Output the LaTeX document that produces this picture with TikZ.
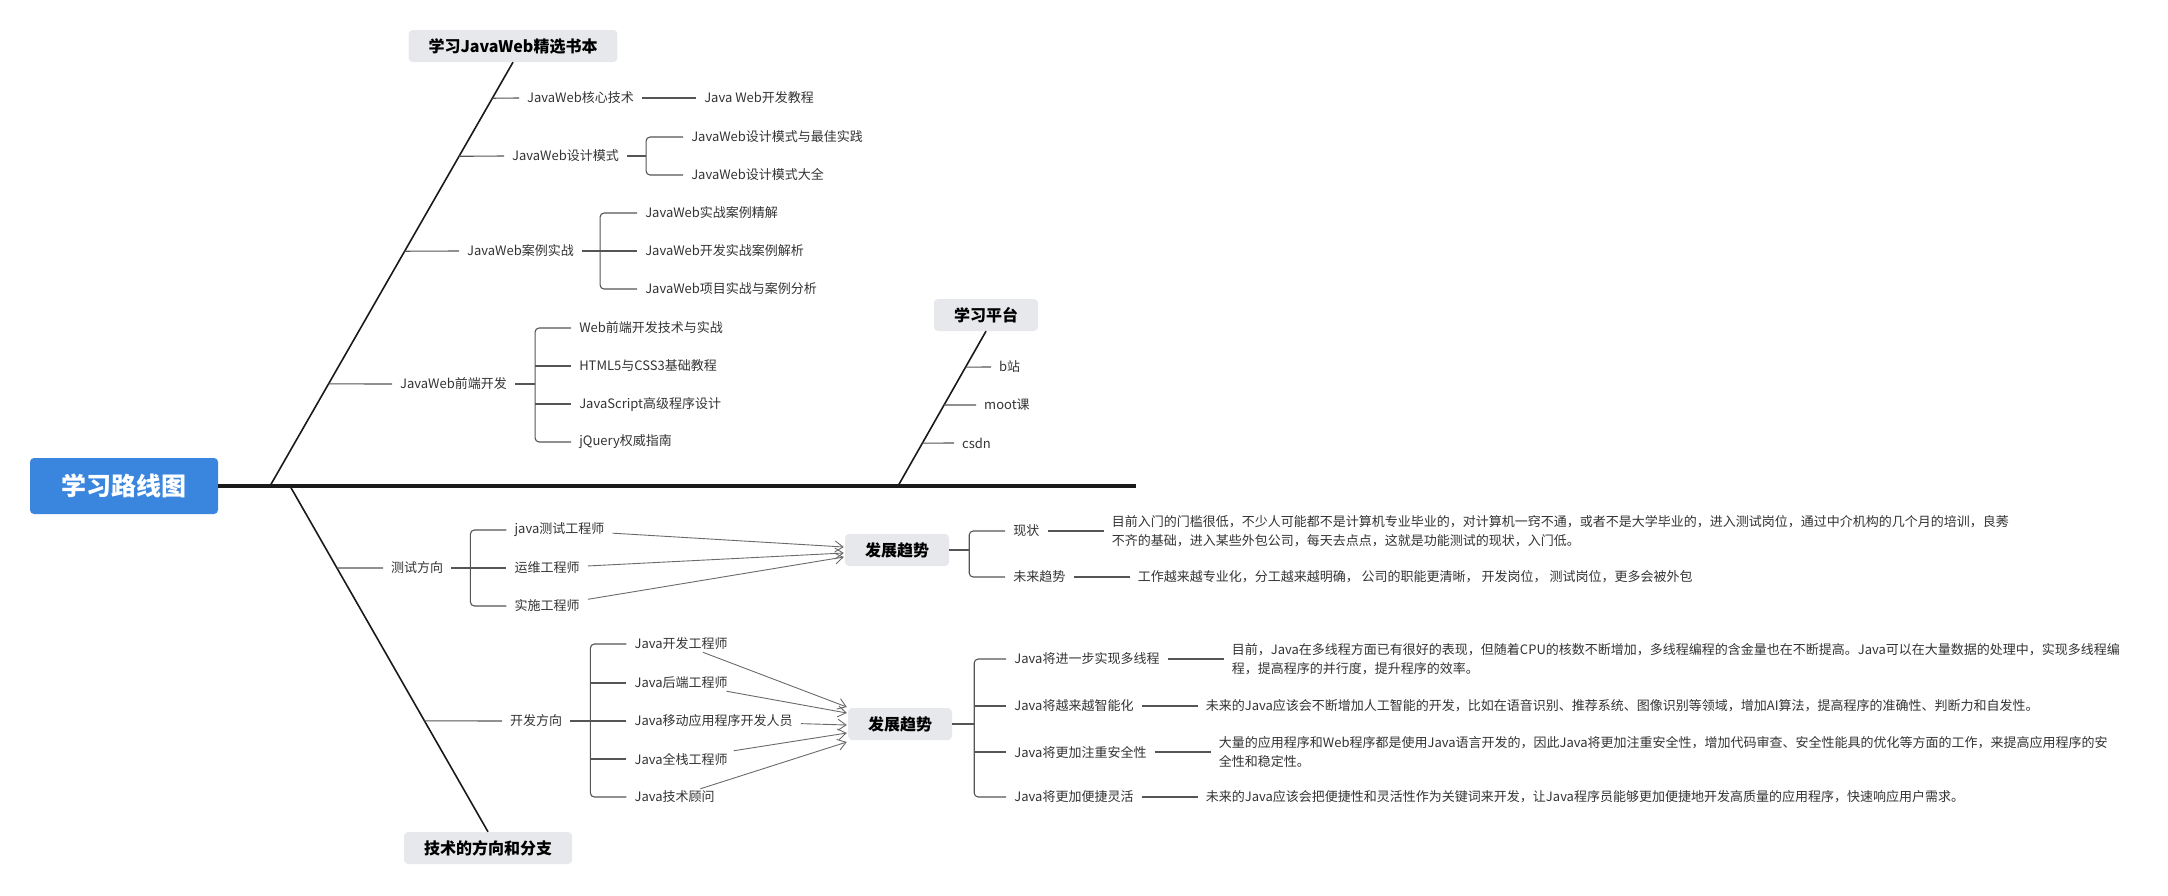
\documentclass[tikz,border=0pt]{standalone}
\usepackage{fontspec}
\setmainfont{Noto Sans CJK SC}
\usetikzlibrary{positioning, arrows.meta, calc}
\definecolor{rootBlue}{HTML}{3A85DE}
\definecolor{topicFill}{HTML}{E7E8EB}
\definecolor{boneColor}{HTML}{1A1A1A}
\definecolor{branchColor}{HTML}{555555}
\definecolor{arrowColor}{HTML}{6A6A6A}
\definecolor{textMain}{HTML}{333333}
\tikzset{
  rootnode/.style={
    fill=rootBlue, rounded corners=4pt,
    minimum width=188pt, minimum height=56pt,
    font=\fontsize{25}{28}\selectfont\bfseries, text=white,
  },
  topic/.style={
    fill=topicFill, rounded corners=4pt,
    minimum height=32pt, inner xsep=20pt,
    font=\fontsize{16}{18}\selectfont\bfseries, text=black,
  },
  leaf/.style={
    anchor=west, inner xsep=8pt, inner ysep=2pt,
    font=\fontsize{13}{15}\selectfont, text=textMain,
  },
  para/.style={
    leaf, align=left, font=\fontsize{13}{19}\selectfont,
  },
  spine/.style={line width=4pt, color=boneColor},
  bone/.style={line width=1.6pt, color=boneColor},
  branch/.style={line width=1.1pt, color=branchColor, rounded corners=4pt},
  trendarrow/.style={
    -{Straight Barb[length=8pt, width=11pt]}, line width=0.9pt, color=arrowColor,
  },
}

\begin{document}
\begin{tikzpicture}[x=1pt, y=-1pt]
  \useasboundingbox (0,0) rectangle (2168,895);

  % === Root and spine ===
  \node[rootnode] (root) at (124,486) {学习路线图};
  \coordinate (spineEnd) at (1136,486);
  \draw[spine] (root.east) -- (spineEnd);

  % === Books bone ===
  \node[topic] (books) at (513,46) {学习JavaWeb精选书本};
  \coordinate (booksFoot) at (270,486);
  \draw[bone] (booksFoot) -- (books.south);

  \node[leaf] (core) at (519,98) {JavaWeb核心技术};
  \node[leaf, right=54pt of core] (coreBook) {Java Web开发教程};
  \draw[branch] ($(booksFoot)!0.915!(books.south)$) -- (core.west);
  \draw[branch] (core) -- (coreBook);

  \node[leaf] (design) at (504,156) {JavaWeb设计模式};
  \coordinate[right=19pt of design] (designFork);
  \node[leaf] (design1) at ($(designFork)+(37,-19)$) {JavaWeb设计模式与最佳实践};
  \node[leaf] (design2) at ($(designFork)+(37,19)$) {JavaWeb设计模式大全};
  \draw[branch] ($(booksFoot)!0.778!(books.south)$) -- (design.west);
  \draw[branch] (design.east) -- (designFork);
  \draw[branch] (design1.west) -| (designFork) |- (design2.west);

  \node[leaf] (cases) at (459,251) {JavaWeb案例实战};
  \coordinate[right=18pt of cases] (casesFork);
  \node[leaf] (cases1) at ($(casesFork)+(37,-38)$) {JavaWeb实战案例精解};
  \node[leaf] (cases2) at ($(casesFork)+(37,0)$) {JavaWeb开发实战案例解析};
  \node[leaf] (cases3) at ($(casesFork)+(37,38)$) {JavaWeb项目实战与案例分析};
  \draw[branch] ($(booksFoot)!0.554!(books.south)$) -- (cases.west);
  \draw[branch] (cases.east) -- (casesFork) -- (cases2.west);
  \draw[branch] (cases1.west) -| (casesFork) |- (cases3.west);

  \node[leaf] (front) at (392,384) {JavaWeb前端开发};
  \coordinate[right=20pt of front] (frontFork);
  \node[leaf] (front1) at ($(frontFork)+(36,-56)$) {Web前端开发技术与实战};
  \node[leaf] (front2) at ($(frontFork)+(36,-18)$) {HTML5与CSS3基础教程};
  \node[leaf] (front3) at ($(frontFork)+(36,20)$) {JavaScript高级程序设计};
  \node[leaf] (front4) at ($(frontFork)+(36,58)$) {jQuery权威指南};
  \draw[branch] ($(booksFoot)!0.241!(books.south)$) -- (front.west);
  \draw[branch] (front.east) -- (frontFork);
  \draw[branch] (front1.west) -| (frontFork) |- (front4.west);
  \draw[branch] (front2.west -| frontFork) -- (front2.west);
  \draw[branch] (front3.west -| frontFork) -- (front3.west);

  % === Platform bone ===
  \node[topic] (platform) at (986,315) {学习平台};
  \coordinate (platformFoot) at (898,486);
  \draw[bone] (platformFoot) -- (platform.south);

  \node[leaf] (bili) at (991,367) {b站};
  \node[leaf] (mooc) at (976,405) {moot课};
  \node[leaf] (csdn) at (954,443) {csdn};
  \draw[branch] ($(platformFoot)!0.768!(platform.south)$) -- (bili.west);
  \draw[branch] ($(platformFoot)!0.523!(platform.south)$) -- (mooc.west);
  \draw[branch] ($(platformFoot)!0.277!(platform.south)$) -- (csdn.west);

  % === Direction bone ===
  \node[topic] (tech) at (488,848) {技术的方向和分支};
  \coordinate (techFoot) at (290,486);
  \draw[bone] (techFoot) -- (tech.north);

  % Test direction
  \node[leaf] (testDir) at (383,568) {测试方向};
  \coordinate[right=19pt of testDir] (testFork);
  \node[leaf] (test1) at ($(testFork)+(36,-38)$) {java测试工程师};
  \node[leaf] (test2) at ($(testFork)+(36,0)$) {运维工程师};
  \node[leaf] (test3) at ($(testFork)+(36,38)$) {实施工程师};
  \draw[branch] ($(techFoot)!0.237!(tech.north)$) -- (testDir.west);
  \draw[branch] (testDir.east) -- (testFork) -- (test2.west);
  \draw[branch] (test1.west) -| (testFork) |- (test3.west);

  \node[topic] (trend1) at (897,550) {发展趋势};
  \draw[trendarrow] (test1) -- ($(trend1.west)+(-1,-3)$);
  \draw[trendarrow] (test2) -- ($(trend1.west)+(-1,3)$);
  \draw[trendarrow] (test3) -- ($(trend1.west)+(-1,7)$);

  \coordinate[right=20pt of trend1] (trend1Fork);
  \node[leaf] (status) at ($(trend1Fork)+(36,-19)$) {现状};
  \node[leaf] (future) at ($(trend1Fork)+(36,27)$) {未来趋势};
  \draw[branch] (trend1.east) -- (trend1Fork);
  \draw[branch] (status.west) -| (trend1Fork) |- (future.west);

  \node[para, right=56pt of status] (statusText) {目前入门的门槛很低，不少人可能都不是计算机专业毕业的，对计算机一窍不通，或者不是大学毕业的，进入测试岗位，通过中介机构的几个月的培训，良莠\\不齐的基础，进入某些外包公司，每天去点点，这就是功能测试的现状，入门低。};
  \node[leaf, right=56pt of future] (futureText) {工作越来越专业化，分工越来越明确， 公司的职能更清晰， 开发岗位， 测试岗位，更多会被外包};
  \draw[branch] (status.east) -- (statusText.west |- status.east);
  \draw[branch] (future) -- (futureText);

  % Development direction
  \node[leaf] (devDir) at (502,721) {开发方向};
  \coordinate[right=20pt of devDir] (devFork);
  \node[leaf] (dev1) at ($(devFork)+(36,-77)$) {Java开发工程师};
  \node[leaf] (dev2) at ($(devFork)+(36,-38)$) {Java后端工程师};
  \node[leaf] (dev3) at ($(devFork)+(36,0)$) {Java移动应用程序开发人员};
  \node[leaf] (dev4) at ($(devFork)+(36,38)$) {Java全栈工程师};
  \node[leaf] (dev5) at ($(devFork)+(36,76)$) {Java技术顾问};
  \draw[branch] ($(techFoot)!0.679!(tech.north)$) -- (devDir.west);
  \draw[branch] (devDir.east) -- (devFork) -- (dev3.west);
  \draw[branch] (dev1.west) -| (devFork) |- (dev5.west);
  \draw[branch] (dev2.west -| devFork) -- (dev2.west);
  \draw[branch] (dev4.west -| devFork) -- (dev4.west);

  \node[topic] (trend2) at (900,724) {发展趋势};
  \draw[trendarrow] (dev1) -- ($(trend2.west)+(-1,-17)$);
  \draw[trendarrow] (dev2) -- ($(trend2.west)+(-1,-11)$);
  \draw[trendarrow] (dev3) -- ($(trend2.west)+(-1,1)$);
  \draw[trendarrow] (dev4) -- ($(trend2.west)+(-1,9)$);
  \draw[trendarrow] (dev5) -- ($(trend2.west)+(-1,18)$);

  \coordinate[right=22pt of trend2] (trend2Fork);
  \node[leaf] (thread) at ($(trend2Fork)+(32,-65)$) {Java将进一步实现多线程};
  \node[leaf] (smart) at ($(trend2Fork)+(32,-18)$) {Java将越来越智能化};
  \node[leaf] (secure) at ($(trend2Fork)+(32,28)$) {Java将更加注重安全性};
  \node[leaf] (agile) at ($(trend2Fork)+(32,73)$) {Java将更加便捷灵活};
  \draw[branch] (trend2.east) -- (trend2Fork);
  \draw[branch] (thread.west) -| (trend2Fork) |- (agile.west);
  \draw[branch] (smart.west -| trend2Fork) -- (smart.west);
  \draw[branch] (secure.west -| trend2Fork) -- (secure.west);

  \node[para, right=56pt of thread] (threadText) {目前，Java在多线程方面已有很好的表现，但随着CPU的核数不断增加，多线程编程的含金量也在不断提高。Java可以在大量数据的处理中，实现多线程编\\程，提高程序的并行度，提升程序的效率。};
  \node[leaf, right=56pt of smart] (smartText) {未来的Java应该会不断增加人工智能的开发，比如在语音识别、推荐系统、图像识别等领域，增加AI算法，提高程序的准确性、判断力和自发性。};
  \node[para, right=56pt of secure] (secureText) {大量的应用程序和Web程序都是使用Java语言开发的，因此Java将更加注重安全性，增加代码审查、安全性能具的优化等方面的工作，来提高应用程序的安\\全性和稳定性。};
  \node[leaf, right=56pt of agile] (agileText) {未来的Java应该会把便捷性和灵活性作为关键词来开发，让Java程序员能够更加便捷地开发高质量的应用程序，快速响应用户需求。};
  \draw[branch] (thread) -- (threadText);
  \draw[branch] (smart) -- (smartText);
  \draw[branch] (secure) -- (secureText);
  \draw[branch] (agile) -- (agileText);

\end{tikzpicture}
\end{document}
